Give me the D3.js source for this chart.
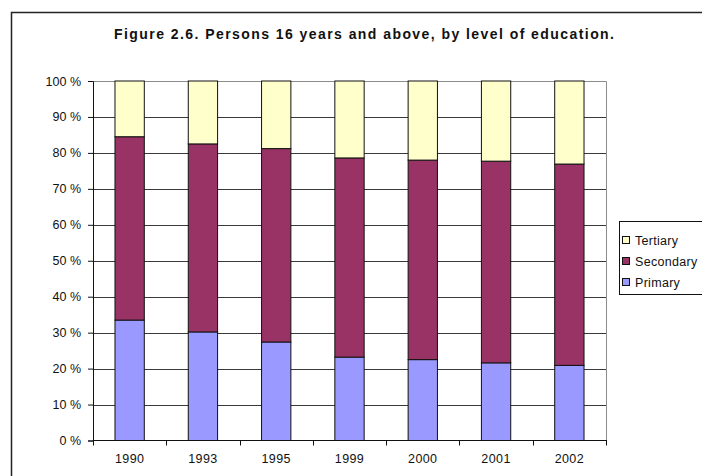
<!DOCTYPE html>
<html>
<head>
<meta charset="utf-8">
<script src="https://cdn.jsdelivr.net/npm/d3@7"></script>
<style>
  html, body { margin: 0; padding: 0; background: #fff; }
  svg { display: block; font-family: "Liberation Sans", Arial, sans-serif; }
</style>
</head>
<body>
<svg id="chart" width="702" height="476"></svg>
<script>
// Share of persons 16 years and above by highest level of education (%)
const years = ["1990", "1993", "1995", "1999", "2000", "2001", "2002"];
const primary   = [33.5, 30.2, 27.4, 23.2, 22.5, 21.6, 20.9];
const secondary = [51.0, 52.3, 53.8, 55.4, 55.5, 56.1, 56.0];
const tertiary  = [15.5, 17.5, 18.8, 21.4, 22.0, 22.3, 23.1];
const seriesNames = ["Primary", "Secondary", "Tertiary"];
const yTicks = [0, 10, 20, 30, 40, 50, 60, 70, 80, 90, 100];
const titleText = "Figure 2.6. Persons 16 years and above, by level of education.";

const colors = { Primary: "#9999FF", Secondary: "#993366", Tertiary: "#FFFFCC" };
const labelSize = 12.5;

const rows = years.map((y, i) => ({
  year: y, Primary: primary[i], Secondary: secondary[i], Tertiary: tertiary[i]
}));
const stacked = d3.stack().keys(seriesNames)(rows);

const svg = d3.select("#chart");
const plot = { left: 93, right: 606, top: 81, bottom: 440.5 };

// Chart frame
svg.append("rect")
  .attr("x", 11.5).attr("y", 12.5)
  .attr("width", 720).attr("height", 500)
  .attr("fill", "#fff").attr("stroke", "#222").attr("stroke-width", 1.5);

// Title
svg.append("text")
  .attr("x", 364).attr("y", 39)
  .attr("text-anchor", "middle")
  .attr("font-size", 14).attr("font-weight", "bold").attr("fill", "#111")
  .attr("textLength", 500).attr("lengthAdjust", "spacing")
  .text(titleText);

const x = d3.scaleBand().domain(years).range([plot.left, plot.right]).paddingInner(0.6).paddingOuter(0.3);
const y = d3.scaleLinear().domain([0, 100]).range([plot.bottom, plot.top]);

// Gridlines
svg.append("g").selectAll("line")
  .data(yTicks.filter(t => t > 0 && t < 100))
  .join("line")
  .attr("x1", plot.left).attr("x2", plot.right)
  .attr("y1", d => Math.round(y(d)) + 0.5).attr("y2", d => Math.round(y(d)) + 0.5)
  .attr("stroke", "#3a3a3a").attr("stroke-width", 1);

// Plot area border (top and right)
svg.append("path")
  .attr("d", `M${plot.left},${Math.round(plot.top) + 0.5}H${plot.right + 0.5}V${plot.bottom}`)
  .attr("fill", "none").attr("stroke", "#8c8c8c").attr("stroke-width", 1);

// Stacked bars
svg.append("g").selectAll("g")
  .data(stacked)
  .join("g")
  .attr("fill", d => colors[d.key])
  .selectAll("rect")
  .data(d => d)
  .join("rect")
  .attr("x", d => x(d.data.year))
  .attr("width", x.bandwidth())
  .attr("y", d => y(d[1]))
  .attr("height", d => y(d[0]) - y(d[1]))
  .attr("stroke", "#111").attr("stroke-width", 1);

// Y axis
const yAxis = d3.axisLeft(y).tickValues(yTicks).tickSize(5).tickPadding(7)
  .tickFormat(d => d + " %");
svg.append("g")
  .attr("transform", `translate(${plot.left},0)`)
  .call(yAxis)
  .call(g => g.select(".domain").attr("stroke", "#111"))
  .call(g => g.selectAll(".tick line").attr("stroke", "#111"))
  .call(g => g.selectAll("text").attr("font-size", labelSize).attr("fill", "#111")
    .attr("font-family", "Liberation Sans, Arial, sans-serif"));

// X axis with category boundary ticks
const xAxisG = svg.append("g").attr("transform", `translate(0,${plot.bottom})`);
xAxisG.append("line")
  .attr("x1", plot.left).attr("x2", plot.right + 1)
  .attr("stroke", "#111");
const edges = d3.range(years.length + 1).map(i => plot.left + (plot.right - plot.left) * i / years.length);
xAxisG.selectAll("line.tk")
  .data(edges)
  .join("line").attr("class", "tk")
  .attr("x1", d => Math.round(d) + 0.5).attr("x2", d => Math.round(d) + 0.5)
  .attr("y1", 0).attr("y2", 5)
  .attr("stroke", "#111");
xAxisG.selectAll("text")
  .data(years)
  .join("text")
  .attr("x", d => x(d) + x.bandwidth() / 2)
  .attr("y", 22.5)
  .attr("text-anchor", "middle")
  .attr("font-size", labelSize).attr("fill", "#111")
  .attr("letter-spacing", 0.4)
  .text(d => d);

// Legend
const legend = svg.append("g");
legend.append("rect")
  .attr("x", 619.5).attr("y", 221.5)
  .attr("width", 100).attr("height", 73)
  .attr("fill", "#fff").attr("stroke", "#111");
const legendOrder = ["Tertiary", "Secondary", "Primary"];
const li = legend.selectAll("g.item")
  .data(legendOrder)
  .join("g").attr("class", "item")
  .attr("transform", (d, i) => `translate(622,${240 + i * 21})`);
li.append("rect")
  .attr("x", 0.5).attr("y", -3.5).attr("width", 7).attr("height", 7)
  .attr("fill", d => colors[d]).attr("stroke", "#111");
li.append("text")
  .attr("x", 13).attr("y", 4.5)
  .attr("font-size", labelSize).attr("fill", "#111")
  .attr("letter-spacing", 0.3)
  .text(d => d);
</script>
</body>
</html>
